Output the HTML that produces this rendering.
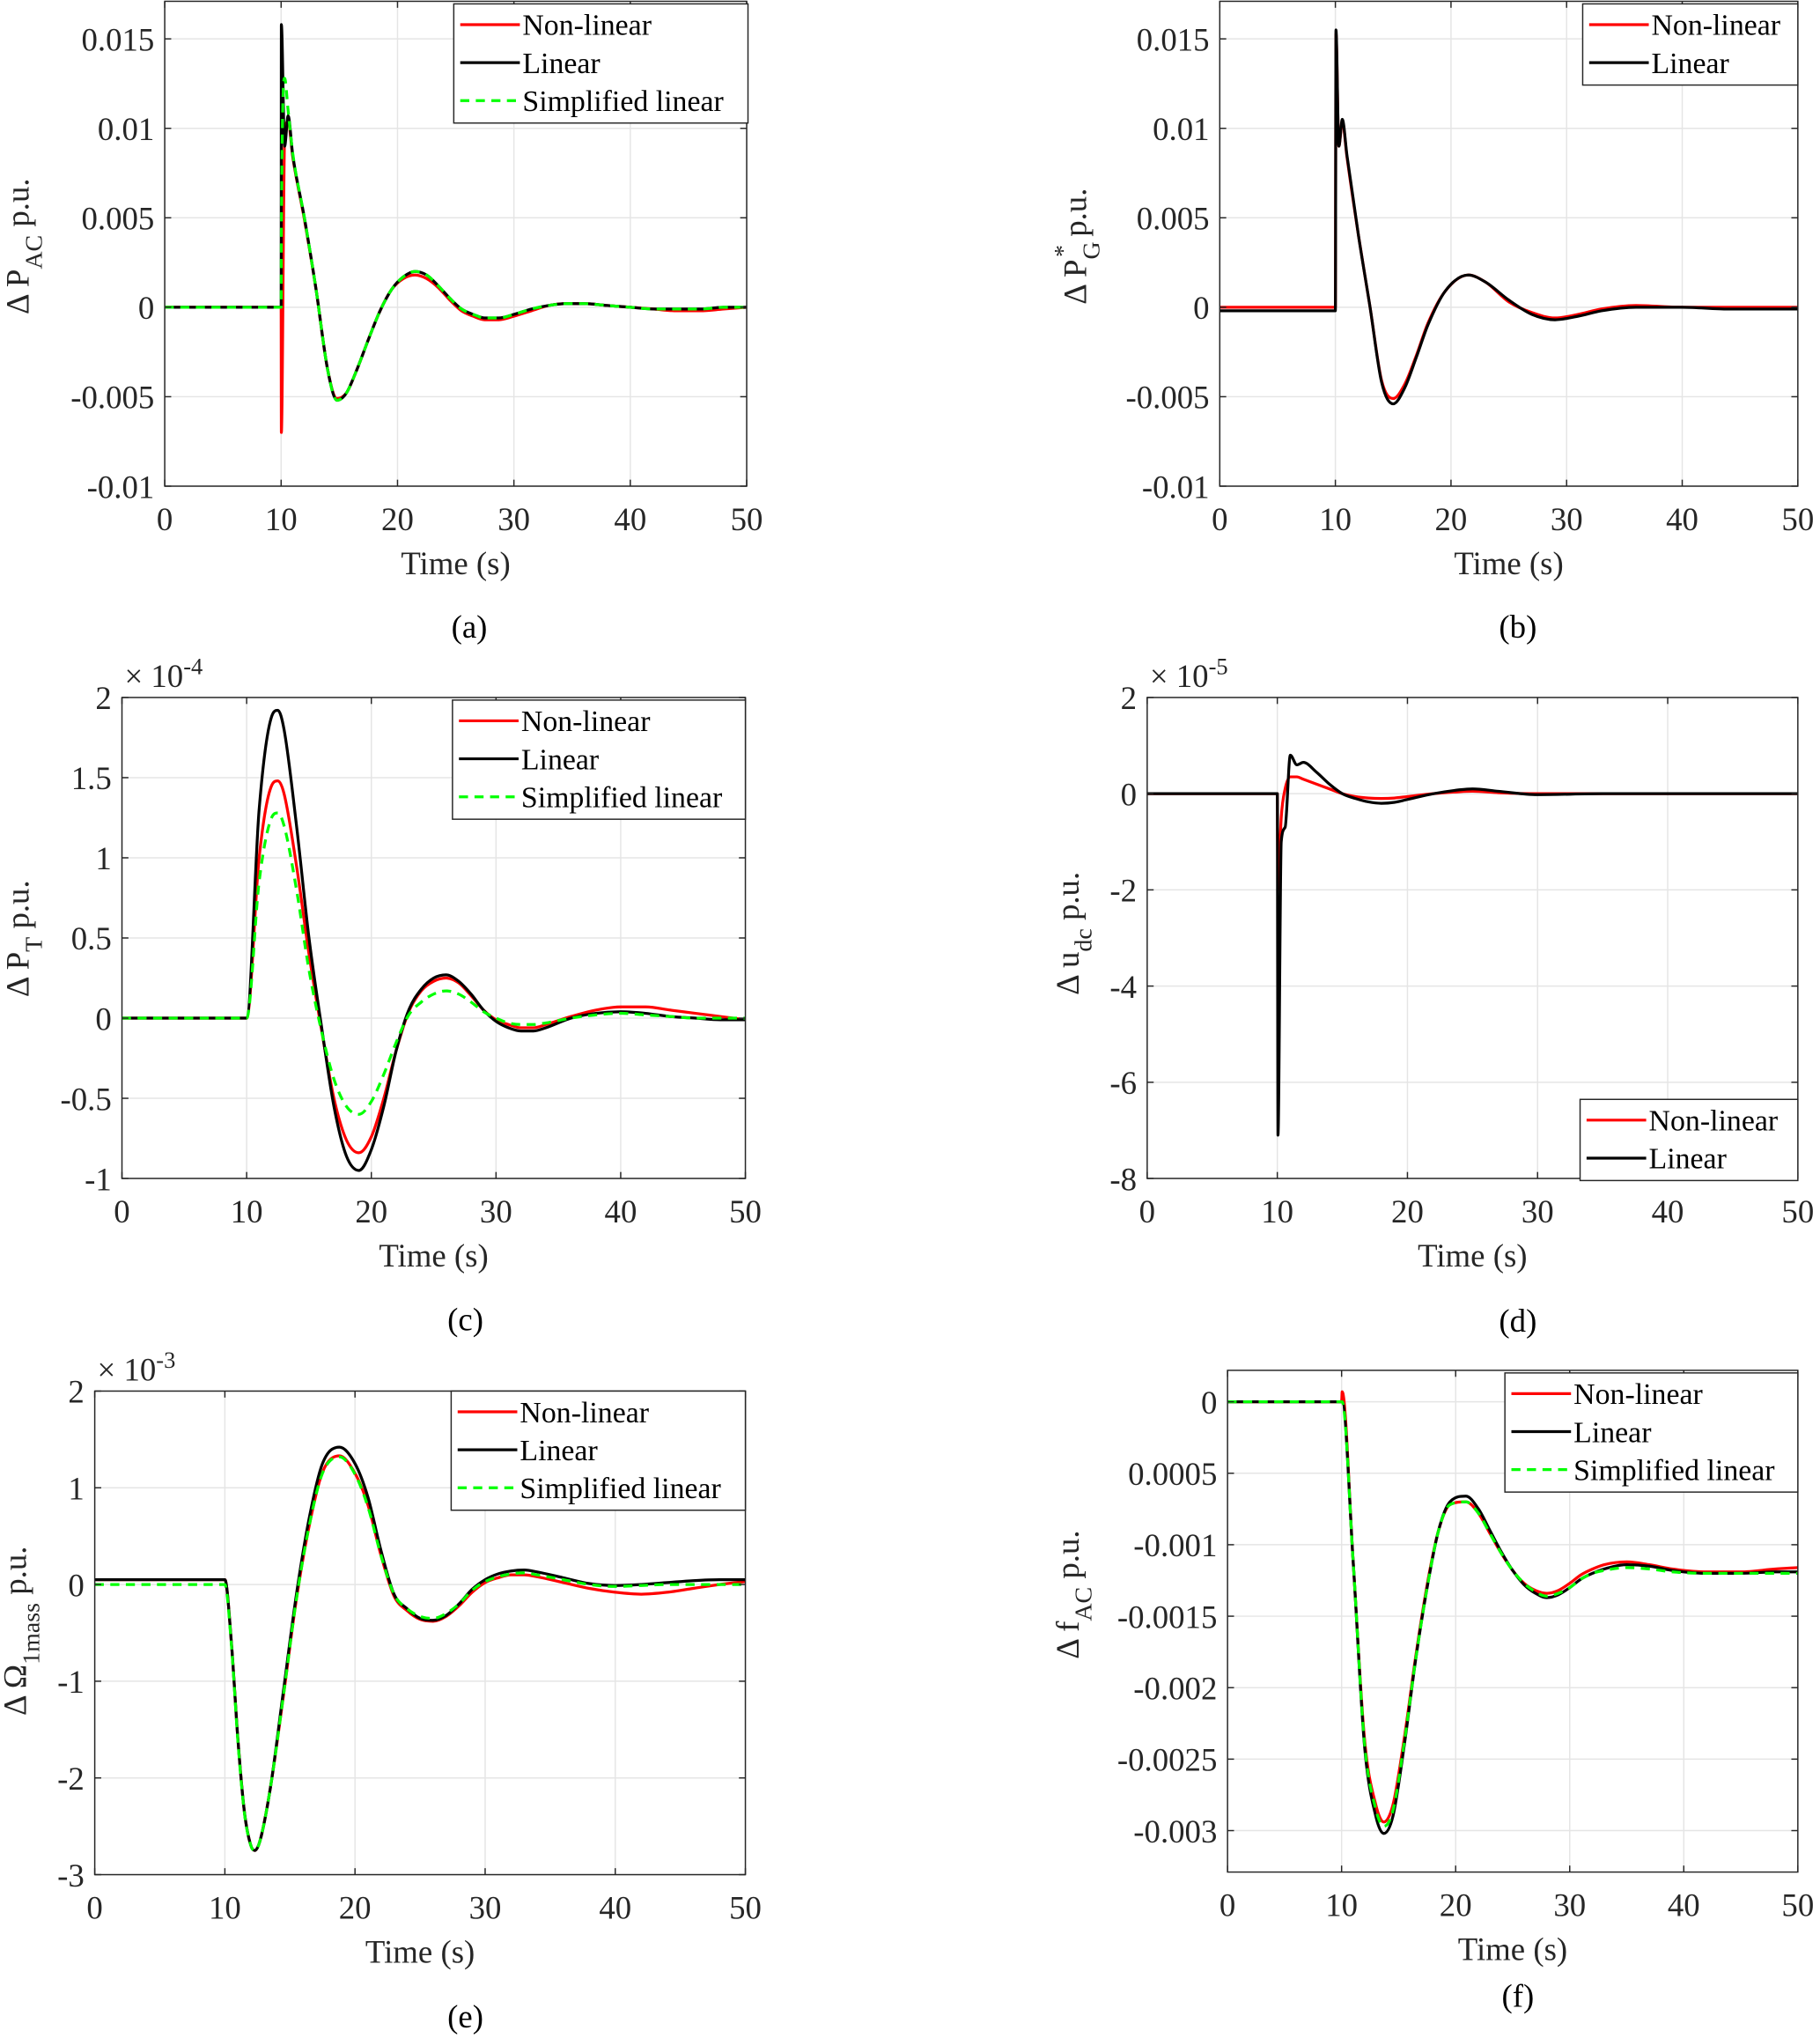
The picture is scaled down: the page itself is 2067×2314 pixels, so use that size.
<!DOCTYPE html>
<html><head><meta charset="utf-8">
<style>
html,body{margin:0;padding:0;background:#fff;}
svg, svg text{font-family:"Liberation Serif","Times New Roman",serif;}
svg{display:block;}
</style></head>
<body>
<svg id="fig" font-family="Liberation Serif, serif" width="2067" height="2314" viewBox="0 0 1404 1572" xmlns="http://www.w3.org/2000/svg"></svg>
<script>
// ---------- DATA ----------
const xTicks = [0,10,20,30,40,50];
// (a)
const tA = [0,10,10.02,10.3,10.6,11,12,13,14,14.8,15.6,16.5,17.5,18.5,19.5,20.5,21.5,22.5,23.5,24.5,25.5,26.5,27.5,28.7,30,31.5,33,34.5,36,38,40,42,44,46,48,50];
const aLinear = [0,0,0.0158,0.009,0.0107,0.0085,0.005,0.001,-0.0035,-0.0052,-0.0048,-0.0035,-0.0018,-0.0002,0.001,0.0017,0.002,0.0018,0.0012,0.0005,-0.0001,-0.0004,-0.0006,-0.0006,-0.0004,-0.0001,0.0001,0.0002,0.0002,0.0001,0,-0.0001,-0.0001,-0.0001,0,0];
const aNonlinear = [0,0,-0.007,0.0095,0.0104,0.0084,0.0049,0.001,-0.0035,-0.0051,-0.0048,-0.0035,-0.0018,-0.0002,0.001,0.0016,0.0018,0.0016,0.0011,0.0004,-0.0002,-0.0005,-0.0007,-0.0007,-0.0005,-0.0002,0.0001,0.0002,0.0002,0.0001,0,-0.0001,-0.0002,-0.0002,-0.0001,0];
const aSimplified = [0,0,0.004,0.0128,0.011,0.0086,0.005,0.001,-0.0035,-0.0052,-0.0048,-0.0035,-0.0018,-0.0002,0.001,0.0017,0.002,0.0018,0.0012,0.0005,-0.0001,-0.0004,-0.0006,-0.0006,-0.0004,-0.0001,0.0001,0.0002,0.0002,0.0001,0,-0.0001,-0.0001,-0.0001,0,0];
const aYTicks = [-0.01,-0.005,0,0.005,0.01,0.015];
const aYLabels = ["-0.01","-0.005","0","0.005","0.01","0.015"];
// (b)
const tB = [0,10,10.05,10.3,10.6,11,12,13,14,15,16,17,18,19.5,21.5,23,25,27,29,31,33,36,40,44,50];
const bLinear = [-0.0002,-0.0002,0.0155,0.009,0.0105,0.0085,0.004,0,-0.0042,-0.0054,-0.0045,-0.0028,-0.001,0.0009,0.0018,0.0014,0.0004,-0.0004,-0.0007,-0.0005,-0.0002,0,0,-0.0001,-0.0001];
const bNonlinear = [0,0,0.0153,0.009,0.0104,0.0084,0.004,0,-0.0041,-0.0051,-0.0043,-0.0027,-0.0009,0.0009,0.0018,0.0014,0.0003,-0.0003,-0.0006,-0.0004,-0.0001,0.0001,0,0,0];
const bYTicks = [-0.01,-0.005,0,0.005,0.01,0.015];
const bYLabels = ["-0.01","-0.005","0","0.005","0.01","0.015"];
// (c) x1e-4
const tC = [0,10,11,12,12.5,13,14,15,16,17,18,19,20,21,22,23,24,25,26,27,28,29,30,31,32,33,34,36,38,40,42,44,46,48,50];
const cLinear = [0,0,1.3,1.88,1.92,1.8,1.2,0.5,-0.05,-0.55,-0.86,-0.95,-0.82,-0.55,-0.2,0.05,0.18,0.25,0.27,0.23,0.15,0.05,-0.02,-0.06,-0.08,-0.08,-0.06,0,0.03,0.04,0.03,0.01,0,-0.01,-0.01];
const cNonlinear = [0,0,1.0,1.45,1.48,1.4,0.95,0.4,-0.07,-0.5,-0.76,-0.84,-0.74,-0.5,-0.2,0.04,0.17,0.23,0.25,0.22,0.14,0.05,-0.01,-0.04,-0.06,-0.06,-0.04,0.01,0.05,0.07,0.07,0.05,0.03,0.01,-0.01];
const cSimplified = [0,0,0.85,1.25,1.28,1.2,0.8,0.3,-0.08,-0.38,-0.55,-0.6,-0.52,-0.35,-0.15,0.02,0.1,0.15,0.17,0.15,0.1,0.04,0,-0.03,-0.04,-0.04,-0.03,0,0.02,0.03,0.02,0.01,0,0,0];
const cYTicks = [-1,-0.5,0,0.5,1,1.5,2];
const cYLabels = ["-1","-0.5","0","0.5","1","1.5","2"];
// (d) x1e-5
const tD = [0,10,10.05,10.3,10.6,11,11.5,12,13,14,15,16,17,18,19,20,22,24,25,27,30,35,50];
const dLinear = [0,0,-7.1,-1,-0.7,0.8,0.6,0.65,0.45,0.2,0,-0.1,-0.17,-0.2,-0.18,-0.12,0,0.08,0.1,0.05,-0.02,0,0];
const dNonlinear = [0,0,-2,-0.5,0.1,0.35,0.35,0.3,0.2,0.1,0,-0.06,-0.09,-0.1,-0.09,-0.06,0,0.04,0.05,0.02,0,0,0];
const dYTicks = [-8,-6,-4,-2,0,2];
const dYLabels = ["-8","-6","-4","-2","0","2"];
// (e) x1e-3
const tE = [0,10,10.5,11,11.5,12,12.3,12.7,13.5,14.5,15.5,16.5,17.5,18.8,20,21,22,23,24,25,26,27,28,29,30,31,32,33,34,36,38,40,42,44,46,48,50];
const eLinear = [0.05,0.05,-0.6,-1.6,-2.35,-2.7,-2.75,-2.65,-2.1,-1.1,-0.1,0.7,1.25,1.42,1.25,0.9,0.35,-0.1,-0.25,-0.35,-0.37,-0.32,-0.2,-0.05,0.05,0.11,0.14,0.15,0.13,0.07,0.01,-0.01,0,0.02,0.04,0.05,0.05];
const eNonlinear = [0.05,0.05,-0.6,-1.6,-2.35,-2.7,-2.75,-2.65,-2.1,-1.15,-0.15,0.62,1.16,1.33,1.15,0.82,0.3,-0.12,-0.27,-0.36,-0.38,-0.33,-0.22,-0.08,0.02,0.07,0.1,0.1,0.08,0.02,-0.04,-0.08,-0.1,-0.08,-0.04,0,0.03];
const eSimplified = [0,0,-0.62,-1.62,-2.36,-2.7,-2.75,-2.65,-2.1,-1.15,-0.15,0.62,1.15,1.32,1.14,0.8,0.3,-0.1,-0.25,-0.33,-0.35,-0.3,-0.2,-0.06,0.03,0.08,0.11,0.12,0.1,0.05,0,-0.02,-0.01,0,0,0,0];
const eYTicks = [-3,-2,-1,0,1,2];
const eYLabels = ["-3","-2","-1","0","1","2"];
// (f)
const tF = [0,10,10.05,11,12,13,13.7,14.5,15.5,16.5,17.5,18.5,19.5,20.9,22,23,24,25,26,27,28,29,30,31,32,33,35,37,39,42,45,48,50];
const fLinear = [0,0,0,-0.0011,-0.0024,-0.0029,-0.00302,-0.0029,-0.0024,-0.0018,-0.0013,-0.0009,-0.0007,-0.00066,-0.00075,-0.0009,-0.00105,-0.00118,-0.00128,-0.00134,-0.00137,-0.00135,-0.0013,-0.00124,-0.0012,-0.00117,-0.00114,-0.00115,-0.00118,-0.0012,-0.0012,-0.00119,-0.00119];
const fNonlinear = [0,0,0.00007,-0.0011,-0.00235,-0.00282,-0.00294,-0.00282,-0.00235,-0.00178,-0.00128,-0.0009,-0.00072,-0.0007,-0.00078,-0.00092,-0.00106,-0.00118,-0.00127,-0.00132,-0.00134,-0.00132,-0.00127,-0.00121,-0.00117,-0.00114,-0.00112,-0.00114,-0.00117,-0.00119,-0.00119,-0.00117,-0.00116];
const fSimplified = [0,0,0,-0.0011,-0.00238,-0.00285,-0.00297,-0.00286,-0.00238,-0.0018,-0.0013,-0.0009,-0.00072,-0.0007,-0.00078,-0.00092,-0.00106,-0.00118,-0.00127,-0.00133,-0.00136,-0.00134,-0.0013,-0.00124,-0.0012,-0.00118,-0.00116,-0.00117,-0.00119,-0.0012,-0.0012,-0.0012,-0.0012];
const fYTicks = [-0.003,-0.0025,-0.002,-0.0015,-0.001,-0.0005,0];
const fYLabels = ["-0.003","-0.0025","-0.002","-0.0015","-0.001","0.0005","0"];

// ---------- DRAW ----------
const NS = "http://www.w3.org/2000/svg";
const svg = document.getElementById('fig');
function mk(tag, attrs, parent){const e=document.createElementNS(NS,tag);for(const k in attrs)e.setAttribute(k,attrs[k]);(parent||svg).appendChild(e);return e;}

function monoPath(px, py){
  const n=px.length; if(n<2) return '';
  const d=[],m=new Array(n);
  for(let i=0;i<n-1;i++){const dx=px[i+1]-px[i];d.push(dx===0?0:(py[i+1]-py[i])/dx);}
  m[0]=d[0];m[n-1]=d[n-2];
  for(let i=1;i<n-1;i++){ m[i]=(d[i-1]*d[i]<=0)?0:(d[i-1]+d[i])/2; }
  for(let i=0;i<n-1;i++){ if(d[i]===0){m[i]=0;m[i+1]=0;continue;} const a=m[i]/d[i],b=m[i+1]/d[i],s=a*a+b*b; if(s>9){const t=3/Math.sqrt(s);m[i]=t*a*d[i];m[i+1]=t*b*d[i];} }
  let p='M'+px[0].toFixed(2)+','+py[0].toFixed(2);
  for(let i=0;i<n-1;i++){const h=(px[i+1]-px[i])/3;
    p+=' C'+(px[i]+h).toFixed(2)+','+(py[i]+m[i]*h).toFixed(2)+' '+(px[i+1]-h).toFixed(2)+','+(py[i+1]-m[i+1]*h).toFixed(2)+' '+px[i+1].toFixed(2)+','+py[i+1].toFixed(2);}
  return p;
}

function panel(c){
  const g=mk('g',{});
  
  
  const X=v=>c.L+(v-0)/(50-0)*(c.R-c.L);
  const Y=v=>c.B-(v-c.y0)/(c.y1-c.y0)*(c.B-c.T);
  xTicks.forEach(v=>{const l=mk('line',{x1:X(v),x2:X(v),y1:c.T,y2:c.B,stroke:'#e5e5e5','stroke-width':1},g);
    });
  c.yt.forEach(v=>{const l=mk('line',{x1:c.L,x2:c.R,y1:Y(v),y2:Y(v),stroke:'#e5e5e5','stroke-width':1},g);
    });
  c.series.forEach(s=>{
    const px=s.t.map(X), py=s.v.map(Y);
    const p=mk('path',{d:monoPath(px,py),fill:'none',stroke:s.color,'stroke-width':2.2,'stroke-dasharray':s.dash||'none','stroke-linejoin':'round'},g);
    
    
  });
  const box=mk('rect',{x:c.L,y:c.T,width:c.R-c.L,height:c.B-c.T,fill:'none',stroke:'#262626','stroke-width':1},g);
  
  xTicks.forEach(v=>{
    mk('line',{x1:X(v),x2:X(v),y1:c.B,y2:c.B-5,stroke:'#262626'},g);
    mk('line',{x1:X(v),x2:X(v),y1:c.T,y2:c.T+5,stroke:'#262626'},g);
    const t=mk('text',{x:X(v),y:c.B+34,'text-anchor':'middle','font-size':25,fill:'#262626'},g);
    t.textContent=v;
  });
  c.yt.forEach((v,i)=>{
    mk('line',{x1:c.L,x2:c.L+5,y1:Y(v),y2:Y(v),stroke:'#262626'},g);
    mk('line',{x1:c.R,x2:c.R-5,y1:Y(v),y2:Y(v),stroke:'#262626'},g);
    const t=mk('text',{x:c.L-8,y:Y(v)+9,'text-anchor':'end','font-size':25,fill:'#262626'},g);
    t.textContent=c.yl[i];
  });
  const xt=mk('text',{x:(c.L+c.R)/2,y:c.B+68,'text-anchor':'middle','font-size':25,fill:'#262626'},g);
  xt.textContent='Time (s)';
  const yt=mk('text',{transform:'translate('+c.ylx+','+c.yly+') rotate(-90)','text-anchor':'middle','font-size':25,fill:'#262626'},g);
  
  yt.innerHTML=c.ytitle;
  if(c.exp){const e=mk('text',{x:c.L+2,y:c.T-8,'font-size':25,fill:'#262626'},g);
    e.innerHTML='× 10<tspan dy="-10" font-size="18">'+c.exp+'</tspan>';
    }
  const lg=mk('g',{},g);
  const n=c.series.length, lh=29.3;
  mk('rect',{x:c.lgx,y:c.lgy,width:c.lgw,height:n*lh+4,fill:'#fff',stroke:'#262626','stroke-width':1},lg);
  c.series.forEach((s,i)=>{
    const yy=c.lgy+16+i*lh;
    const e=mk('g',{},lg);
    mk('line',{x1:c.lgx+5,x2:c.lgx+51,y1:yy,y2:yy,stroke:s.color,'stroke-width':2.2,'stroke-dasharray':s.dash||'none'},e);
    const t=mk('text',{x:c.lgx+53,y:yy+8,'font-size':23,fill:'#000'},e);t.textContent=s.label;
  });
  const cp=mk('text',{x:c.capx,y:c.capy,'text-anchor':'middle','font-size':25,fill:'#000'},g);
  cp.textContent=c.cap;
}
const RED='#ff0000',BLK='#000000',GRN='#00ff00',DSH='7,5';
panel({name:'panel-a',L:127,R:576,T:1,B:375,y0:-0.01,y1:0.0171,yt:aYTicks,yl:aYLabels,
  ytitle:'Δ P<tspan dy="10" font-size="19">AC</tspan><tspan dy="-10"> p.u.</tspan>',ylx:22,yly:190,
  lgx:350,lgy:3,lgw:227,capx:362,capy:492,cap:'(a)',
  series:[{key:'non-linear',label:'Non-linear',t:tA,v:aNonlinear,color:RED},{key:'linear',label:'Linear',t:tA,v:aLinear,color:BLK},{key:'simplified-linear',label:'Simplified linear',t:tA,v:aSimplified,color:GRN,dash:DSH}]});
panel({name:'panel-b',L:941,R:1387,T:1,B:375,y0:-0.01,y1:0.0171,yt:bYTicks,yl:bYLabels,
  ytitle:'Δ P<tspan dy="10" font-size="19">G</tspan><tspan dx="-12" dy="-22" font-size="19">*</tspan><tspan dy="12"> p.u.</tspan>',ylx:838,yly:190,
  lgx:1221,lgy:3,lgw:166,capx:1171,capy:492,cap:'(b)',
  series:[{key:'non-linear',label:'Non-linear',t:tB,v:bNonlinear,color:RED},{key:'linear',label:'Linear',t:tB,v:bLinear,color:BLK}]});
panel({name:'panel-c',L:94,R:575,T:538,B:909,y0:-1,y1:2,yt:cYTicks,yl:cYLabels,
  ytitle:'Δ P<tspan dy="10" font-size="19">T</tspan><tspan dy="-10"> p.u.</tspan>',ylx:22,yly:724,exp:'-4',
  lgx:349,lgy:540,lgw:226,capx:359,capy:1026,cap:'(c)',
  series:[{key:'non-linear',label:'Non-linear',t:tC,v:cNonlinear,color:RED},{key:'linear',label:'Linear',t:tC,v:cLinear,color:BLK},{key:'simplified-linear',label:'Simplified linear',t:tC,v:cSimplified,color:GRN,dash:DSH}]});
panel({name:'panel-d',L:885,R:1387,T:538,B:909,y0:-8,y1:2,yt:dYTicks,yl:dYLabels,
  ytitle:'Δ u<tspan dy="10" font-size="19">dc</tspan><tspan dy="-10"> p.u.</tspan>',ylx:832,yly:720,exp:'-5',
  lgx:1219,lgy:848,lgw:168,capx:1171,capy:1027,cap:'(d)',
  series:[{key:'non-linear',label:'Non-linear',t:tD,v:dNonlinear,color:RED},{key:'linear',label:'Linear',t:tD,v:dLinear,color:BLK}]});
panel({name:'panel-e',L:73,R:575,T:1073,B:1446,y0:-3,y1:2,yt:eYTicks,yl:eYLabels,
  ytitle:'Δ Ω<tspan dy="10" font-size="19">1mass</tspan><tspan dy="-10"> p.u.</tspan>',ylx:20,yly:1258,exp:'-3',
  lgx:348,lgy:1073,lgw:227,capx:359,capy:1564,cap:'(e)',
  series:[{key:'non-linear',label:'Non-linear',t:tE,v:eNonlinear,color:RED},{key:'linear',label:'Linear',t:tE,v:eLinear,color:BLK},{key:'simplified-linear',label:'Simplified linear',t:tE,v:eSimplified,color:GRN,dash:DSH}]});
panel({name:'panel-f',L:947,R:1387,T:1057,B:1444,y0:-0.00329,y1:0.00022,yt:fYTicks,yl:fYLabels,
  ytitle:'Δ f<tspan dy="10" font-size="19">AC</tspan><tspan dy="-10"> p.u.</tspan>',ylx:832,yly:1230,
  lgx:1161,lgy:1059,lgw:226,capx:1171,capy:1548,cap:'(f)',
  series:[{key:'non-linear',label:'Non-linear',t:tF,v:fNonlinear,color:RED},{key:'linear',label:'Linear',t:tF,v:fLinear,color:BLK},{key:'simplified-linear',label:'Simplified linear',t:tF,v:fSimplified,color:GRN,dash:DSH}]});
</script>
</body></html>
